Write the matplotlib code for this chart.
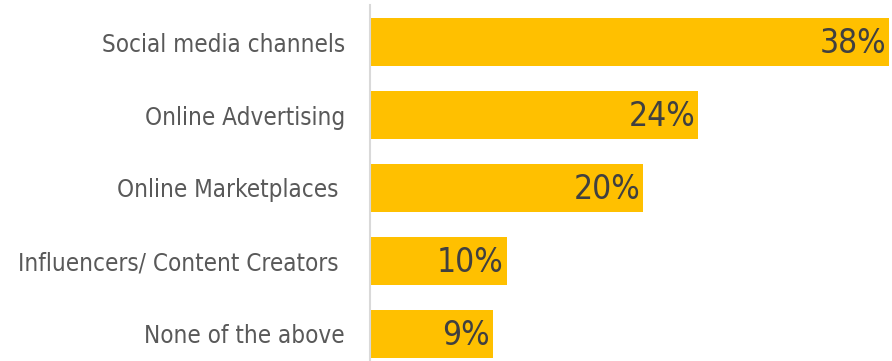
import matplotlib.pyplot as plt

categories = [
    "Social media channels",
    "Online Advertising",
    "Online Marketplaces ",
    "Influencers/ Content Creators ",
    "None of the above",
]
shares = [38, 24, 20, 10, 9]

BAR_COLOR = "#FFC000"
LABEL_COLOR = "#595959"
VALUE_COLOR = "#404040"
FONT = dict(family="DejaVu Sans", stretch="condensed")

fig = plt.figure(figsize=(8.92, 3.61), dpi=100)
ax = fig.add_axes([370 / 892, 0, 522 / 892, 356 / 361])

pos = list(range(len(categories)))
ax.barh(pos, shares, height=0.66, color=BAR_COLOR, zorder=2)

ax.set_xlim(0, 38 * 522 / 519)
ax.set_ylim(4.376, -0.51)

for y, v in zip(pos, shares):
    ax.text(v - 0.2, y + 0.02, f"{v}%", ha="right", va="center",
            fontsize=24, color=VALUE_COLOR, **FONT)

ax.set_yticks(pos)
ax.set_yticklabels(categories, fontsize=17.4, color=LABEL_COLOR, **FONT)
ax.tick_params(axis="y", length=0, pad=18)
ax.set_xticks([])

for side in ("top", "right", "bottom"):
    ax.spines[side].set_visible(False)
ax.spines["left"].set_color("#D9D9D9")
ax.spines["left"].set_linewidth(1.5)

fig.savefig("out.png", dpi=100)
